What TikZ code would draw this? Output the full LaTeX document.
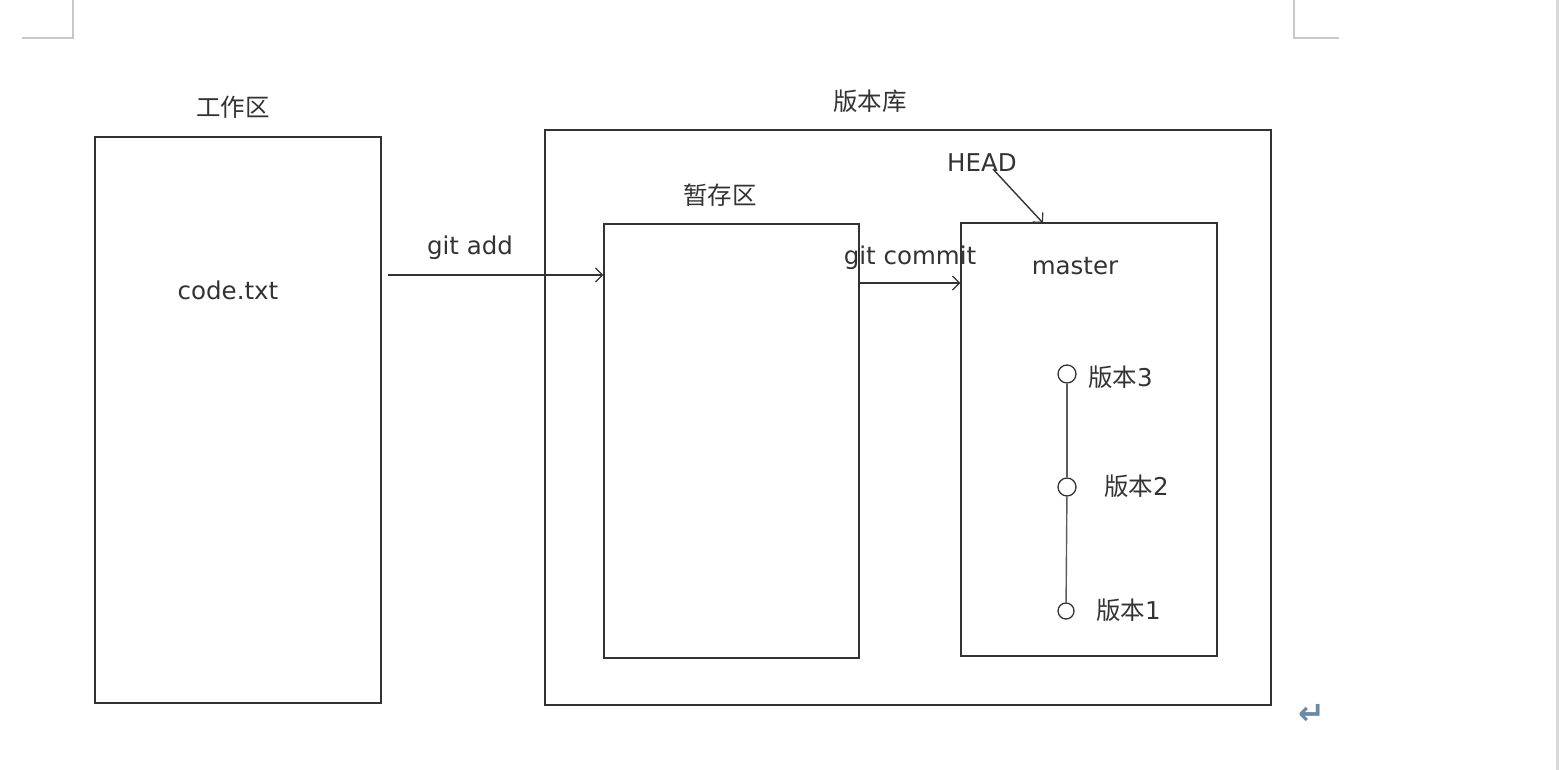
\documentclass[tikz,border=0pt]{standalone}
\usepackage{fontspec}
\setmainfont{DejaVu Sans}
\newfontfamily\cjk{Noto Sans CJK SC}
\usetikzlibrary{arrows.meta}
\definecolor{ink}{HTML}{333333}
\definecolor{mark}{HTML}{C8C8C8}
\definecolor{retc}{HTML}{6A88A8}
\begin{document}
\begin{tikzpicture}[x=1pt,y=-1pt,
  box/.style={draw=ink,line width=1.4pt,rectangle,inner sep=0pt},
  lbl/.style={text=ink,inner sep=0pt,font=\fontsize{24.5}{28}\selectfont},
  conn/.style={draw=ink,line width=1.4pt,-{Straight Barb[length=7pt,width=14pt,line width=1.2pt]}},
  ver/.style={draw=ink,line width=1.3pt,circle,fill=white,minimum size=18pt,inner sep=0pt},
  pagemark/.style={draw=mark,line width=1.6pt}]
\fill[white] (0,0) rectangle (1564,770);
\useasboundingbox (0,0) rectangle (1564,770);
% page corner marks
\draw[pagemark] (73,0) -- (73,38) -- (22,38);
\draw[pagemark] (1294,0) -- (1294,38) -- (1339,38);
\draw[draw=mark!70,line width=3pt] (1557,0) -- (1557,770);
% boxes
\node[box,minimum width=286pt,minimum height=566pt] (work) at (238,420) {};
\node[box,minimum width=726pt,minimum height=575pt] (repo) at (908,417.5) {};
\node[box,minimum width=255pt,minimum height=434pt] (stage) at (731.5,441) {};
\node[box,minimum width=256pt,minimum height=433pt] (master) at (1089,439.5) {};
% labels
\node[lbl] (lwork) at (233,107) {\cjk 工作区};
\node[lbl] (code) at (228,290) {code.txt};
\node[lbl] (lrepo) at (870,101) {\cjk 版本库};
\node[lbl] (lstage) at (720,195) {\cjk 暂存区};
\node[lbl] (lmaster) at (1075,266) {master};
\node[lbl] (head) at (982,163) {HEAD};
\node[lbl] (ladd) at (470,248) {git add};
\node[lbl] (lcommit) at (910,258) {git commit};
% versions
\node[ver] (v3) at (1067,374) {};
\node[ver] (v2) at (1067,487) {};
\node[ver,minimum size=16pt] (v1) at (1066,611) {};
\node[lbl,anchor=west] (t3) at (1088,377) {{\cjk 版本}3};
\node[lbl,anchor=west] (t2) at (1104,486) {{\cjk 版本}2};
\node[lbl,anchor=west] (t1) at (1096,610) {{\cjk 版本}1};
\draw[draw=ink!80,line width=1.4pt] (v3) -- (v2);
\draw[draw=ink!80,line width=1.4pt] (v2) -- (v1);
% connectors
\coordinate (addy) at (0,275);
\coordinate (commity) at (0,283);
\coordinate (headtip) at (1043,223);
\draw[conn,shorten <=6pt] (work.east |- addy) -- (stage.west |- addy);
\draw[conn] (stage.east |- commity) -- (master.west |- commity);
\draw[conn] ([xshift=11pt,yshift=3pt]head.south) -- (headtip);
% return mark
\node[text=retc,inner sep=0pt,font=\fontsize{32}{36}\bfseries\selectfont] (ret) at (1312,714) {↵};
\end{tikzpicture}
\end{document}
